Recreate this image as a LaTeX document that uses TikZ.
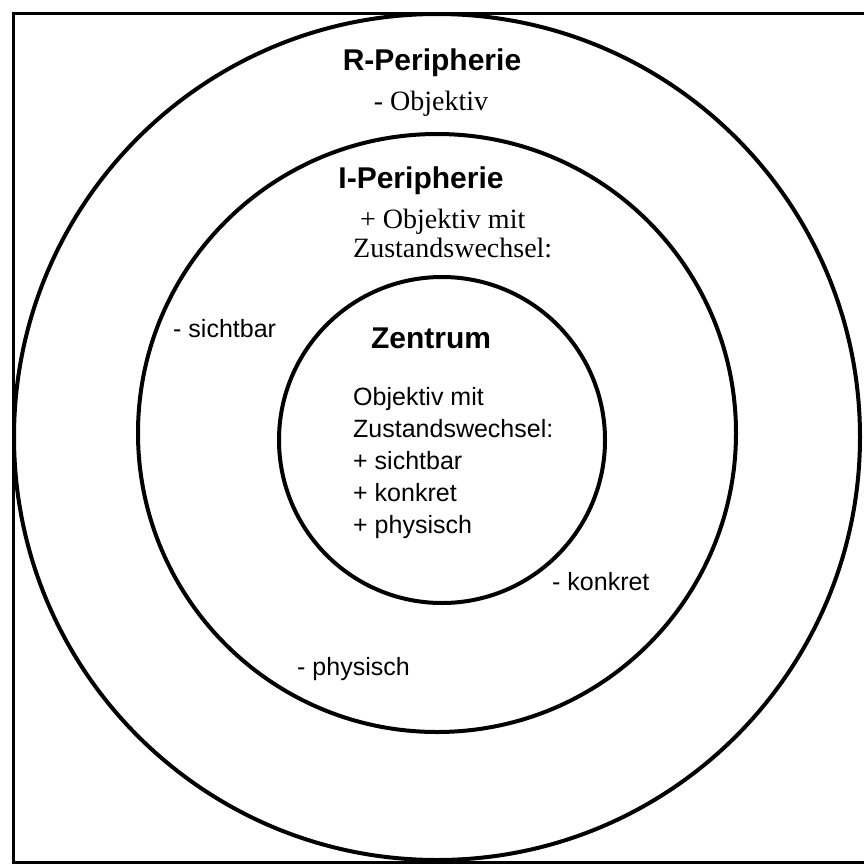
\documentclass[tikz,border=0pt]{standalone}
\usepackage{fontspec}
\setmainfont{Liberation Serif}
\setsansfont{Liberation Sans}
\usetikzlibrary{positioning}

\tikzset{
	ring/.style={draw, circle, line width=4pt, inner sep=0pt},
	heading/.style={font=\sffamily\bfseries\fontsize{30}{36}\selectfont, inner sep=0pt},
	feature/.style={font=\sffamily\fontsize{25}{32}\selectfont, inner sep=0pt},
	serifline/.style={font=\rmfamily\fontsize{28}{31}\selectfont, inner sep=0pt},
}

\begin{document}
\begin{tikzpicture}[x=1pt, y=-1pt]
	
	\useasboundingbox (0,0) rectangle (863,865);
	
	% ---------------------
	% Frame
	\coordinate (FrameTopRight) at (875,13);
	\coordinate (FrameTopLeft) at (13,13);
	\coordinate (FrameBottomLeft) at (13,862);
	\coordinate (FrameBottomRight) at (875,862);
	\draw[line width=3pt, line join=miter] (FrameTopRight) -- (FrameTopLeft)
		-- (FrameBottomLeft) -- (FrameBottomRight);
	
	% ---------------------
	% Rings
	\coordinate (OuterCenter) at (437,437);
	\coordinate (MiddleCenter) at (437,433);
	\coordinate (InnerCenter) at (442,440);
	
	\node[ring, minimum size=846pt] (RRing) at (OuterCenter) {};
	\node[ring, minimum size=598pt] (IRing) at (MiddleCenter) {};
	\node[ring, minimum size=326pt] (ZRing) at (InnerCenter) {};
	
	% ---------------------
	% R-Peripherie
	\node[heading, anchor=base] (RTitle) at (432,70) {R-Peripherie};
	\node[serifline, anchor=base] (RObjektiv) at (431,110) {- Objektiv};
	
	% ---------------------
	% I-Peripherie
	\node[heading, anchor=base] (ITitle) at (421,188) {I-Peripherie};
	\node[serifline, anchor=base west] (IObjektiv) at (360,228) {+ Objektiv mit};
	\node[serifline, anchor=base west] (IWechsel) at (353,257) {Zustandswechsel:};
	
	\node[feature, anchor=base west] (ISichtbar) at (173,337) {- sichtbar};
	\node[feature, anchor=base west] (IKonkret) at (552,590) {- konkret};
	\node[feature, anchor=base west] (IPhysisch) at (297,675) {- physisch};
	
	% ---------------------
	% Zentrum
	\node[heading, anchor=base] (ZTitle) at (431,348) {Zentrum};
	\node[feature, anchor=north west, align=left] (ZList) at (353,387)
		{Objektiv mit\\ Zustandswechsel:\\ + sichtbar\\ + konkret\\ + physisch};
	
\end{tikzpicture}
\end{document}
